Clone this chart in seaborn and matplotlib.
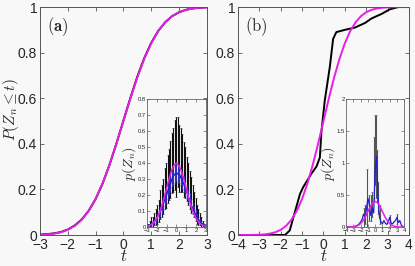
import numpy as np
import matplotlib
matplotlib.use("Agg")
import matplotlib.pyplot as plt
import seaborn as sns

# ---------------- data ----------------
# panel (a) CDF
ta = [-3.0, -2.75, -2.5, -2.25, -2.0, -1.75, -1.5, -1.25, -1.0, -0.75, -0.5, -0.25, 0.0,
      0.25, 0.5, 0.75, 1.0, 1.25, 1.5, 1.75, 2.0, 2.25, 2.5, 2.75, 3.0]
cdf_a_emp = [0.002, 0.004, 0.007, 0.013, 0.024, 0.042, 0.068, 0.106, 0.158, 0.225, 0.308, 0.402, 0.502,
             0.601, 0.695, 0.776, 0.843, 0.895, 0.933, 0.960, 0.977, 0.988, 0.994, 0.997, 0.999]
cdf_a_norm = [0.0013, 0.003, 0.0062, 0.0122, 0.0228, 0.0401, 0.0668, 0.1056, 0.1587, 0.2266, 0.3085, 0.4013, 0.5,
              0.5987, 0.6915, 0.7734, 0.8413, 0.8944, 0.9332, 0.9599, 0.9772, 0.9878, 0.9938, 0.997, 0.9987]

# panel (b) CDF
tb_norm = [-4.0, -3.75, -3.5, -3.25, -3.0, -2.75, -2.5, -2.25, -2.0, -1.75, -1.5, -1.25, -1.0, -0.75, -0.5, -0.25, 0.0,
           0.25, 0.5, 0.75, 1.0, 1.25, 1.5, 1.75, 2.0, 2.25, 2.5, 2.75, 3.0, 3.25, 3.5, 3.75, 4.0]
cdf_b_norm = [0.00003, 0.0001, 0.0002, 0.0006, 0.0013, 0.003, 0.0062, 0.0122, 0.0228, 0.0401, 0.0668, 0.1056, 0.1587,
              0.2266, 0.3085, 0.4013, 0.5, 0.5987, 0.6915, 0.7734, 0.8413, 0.8944, 0.9332, 0.9599, 0.9772, 0.9878,
              0.9938, 0.997, 0.9987, 0.9994, 0.9998, 0.9999, 1.0]
tb_emp = [-4.0, -1.8, -1.58, -1.34, -1.1, -0.95, -0.56, -0.33, -0.17, -0.1, 0.06, 0.3, 0.45, 0.6, 1.0,
          1.47, 1.94, 2.25, 2.72, 3.1, 3.5, 4.0]
cdf_b_emp = [0.0, 0.0, 0.02, 0.10, 0.18, 0.21, 0.27, 0.30, 0.34, 0.45, 0.59, 0.74, 0.86, 0.89, 0.90,
             0.91, 0.93, 0.95, 0.97, 0.99, 1.0, 1.0]

# inset (a)
xa = [-3.0 + 0.15 * i for i in range(41)]
black_a = [0.01, 0.01, 0.02, 0.03, 0.03, 0.05, 0.06, 0.08, 0.10, 0.14, 0.16, 0.19, 0.24, 0.26, 0.30, 0.33,
           0.36, 0.40, 0.42, 0.45, 0.44, 0.47, 0.43, 0.42, 0.40, 0.36, 0.34, 0.30, 0.27, 0.23, 0.20, 0.17,
           0.14, 0.11, 0.08, 0.06, 0.05, 0.03, 0.02, 0.01, 0.01]
black_a_err = [0.01, 0.01, 0.02, 0.03, 0.03, 0.04, 0.05, 0.06, 0.07, 0.09, 0.10, 0.11, 0.13, 0.14, 0.15, 0.16,
               0.18, 0.19, 0.20, 0.22, 0.25, 0.22, 0.21, 0.20, 0.18, 0.17, 0.16, 0.14, 0.13, 0.12, 0.11, 0.09,
               0.08, 0.07, 0.06, 0.05, 0.04, 0.03, 0.02, 0.01, 0.01]
blue_a = [0.005, 0.008, 0.012, 0.018, 0.025, 0.035, 0.045, 0.06, 0.075, 0.095, 0.115, 0.14, 0.17, 0.19, 0.22,
          0.25, 0.27, 0.30, 0.32, 0.33, 0.34, 0.33, 0.33, 0.31, 0.29, 0.27, 0.24, 0.22, 0.19, 0.17, 0.14,
          0.12, 0.10, 0.08, 0.06, 0.045, 0.035, 0.025, 0.018, 0.01, 0.006]
blue_a_err = [0.004, 0.005, 0.007, 0.01, 0.012, 0.015, 0.018, 0.02, 0.025, 0.03, 0.03, 0.035, 0.04, 0.04, 0.045,
              0.05, 0.05, 0.05, 0.055, 0.055, 0.055, 0.055, 0.055, 0.05, 0.05, 0.05, 0.045, 0.045, 0.04, 0.04,
              0.035, 0.03, 0.03, 0.025, 0.02, 0.018, 0.015, 0.012, 0.01, 0.006, 0.004]
xpdf_a = [-3.0, -2.75, -2.5, -2.25, -2.0, -1.75, -1.5, -1.25, -1.0, -0.75, -0.5, -0.25, 0.0,
          0.25, 0.5, 0.75, 1.0, 1.25, 1.5, 1.75, 2.0, 2.25, 2.5, 2.75, 3.0]
pdf_a = [0.0044, 0.0091, 0.0175, 0.0317, 0.054, 0.0863, 0.1295, 0.1826, 0.242, 0.3011, 0.3521, 0.3867, 0.3989,
         0.3867, 0.3521, 0.3011, 0.242, 0.1826, 0.1295, 0.0863, 0.054, 0.0317, 0.0175, 0.0091, 0.0044]

# inset (b)
xb = [-4.0 + 0.2 * i for i in range(41)]
blue_b = [0, 0, 0, 0, 0, 0, 0.01, 0.02, 0.03, 0.05, 0.08, 0.12, 0.2, 0.15, 0.28, 0.45, 0.35, 0.18, 0.3, 0.22,
          0.9, 1.1, 0.45, 0.15, 0.08, 0.05, 0.1, 0.06, 0.04, 0.08, 0.15, 0.06, 0.05, 0.08, 0.1, 0.15, 0.07,
          0.1, 0.03, 0.01, 0.0]
spike_t = [-1.6, -1.4, -1.1, -0.9, -0.6, -0.4, -0.2, 0.0, 0.1, 0.2, 0.4, 0.6, 2.0, 3.0]
spike_m = [0.15, 0.2, 0.45, 0.3, 0.3, 0.35, 0.9, 1.2, 1.1, 0.8, 0.45, 0.2, 0.1, 0.12]
spike_e = [0.15, 0.15, 0.45, 0.2, 0.2, 0.2, 0.5, 0.55, 0.65, 0.4, 0.25, 0.15, 0.08, 0.08]
xpdf_b = tb_norm
pdf_b = [0.0001, 0.0004, 0.0009, 0.002, 0.0044, 0.0091, 0.0175, 0.0317, 0.054, 0.0863, 0.1295, 0.1826, 0.242,
         0.3011, 0.3521, 0.3867, 0.3989, 0.3867, 0.3521, 0.3011, 0.242, 0.1826, 0.1295, 0.0863, 0.054, 0.0317,
         0.0175, 0.0091, 0.0044, 0.002, 0.0009, 0.0004, 0.0001]

# ---------------- style ----------------
sns.set_style("ticks")
plt.rcParams['font.family'] = ['Liberation Sans', 'DejaVu Sans']
plt.rcParams['mathtext.fontset'] = 'cm'
plt.rcParams['xtick.direction'] = 'in'
plt.rcParams['ytick.direction'] = 'in'

BG = '#f8f8f8'
MAG = '#e81ee8'
fig = plt.figure(figsize=(4.15, 2.66), dpi=100, facecolor=BG)

def style_main(ax):
    ax.set_facecolor(BG)
    for s in ax.spines.values():
        s.set_color('#555555')
        s.set_linewidth(0.7)
    ax.tick_params(axis='both', which='both', top=True, right=True, length=3, width=0.6,
                   labelsize=10, pad=2, color='#555555')

def style_inset(ax):
    ax.set_facecolor(BG)
    for s in ax.spines.values():
        s.set_color('#666666')
        s.set_linewidth(0.6)
    ax.tick_params(axis='both', which='both', top=True, right=True, length=2, width=0.5,
                   labelsize=4.2, pad=0.8, color='#666666')

def minus(vals):
    return [('\u2212' + str(abs(v))) if v < 0 else str(v) for v in vals]

# panel (a)
ax1 = fig.add_axes([0.0964, 0.1165, 0.402, 0.857])
style_main(ax1)
sns.lineplot(x=ta, y=cdf_a_emp, ax=ax1, color='black', linewidth=1.4)
sns.lineplot(x=ta, y=cdf_a_norm, ax=ax1, color=MAG, linewidth=1.4)
ax1.set_xlim(-3, 3)
ax1.set_ylim(0, 1)
ax1.set_xticks([-3, -2, -1, 0, 1, 2, 3])
ax1.set_xticklabels(minus([-3, -2, -1, 0, 1, 2, 3]))
ax1.set_yticks([0, 0.2, 0.4, 0.6, 0.8, 1])
ax1.set_yticklabels(['0', '0.2', '0.4', '0.6', '0.8', '1'])
ax1.set_xlabel(r'$t$', fontsize=12, labelpad=-2.5)
ax1.set_ylabel(r'$P(Z_n \leq t)$', fontsize=11)
ax1.yaxis.set_label_coords(-0.115, 0.55)
ax1.text(0.04, 0.965, r'$\mathbf{(a)}$', transform=ax1.transAxes, fontsize=12, va='top', ha='left')

# panel (b)
ax2 = fig.add_axes([0.5735, 0.1165, 0.412, 0.857])
style_main(ax2)
sns.lineplot(x=tb_emp, y=cdf_b_emp, ax=ax2, color='black', linewidth=1.4)
sns.lineplot(x=tb_norm, y=cdf_b_norm, ax=ax2, color=MAG, linewidth=1.4)
ax2.set_xlim(-4, 4)
ax2.set_ylim(0, 1)
ax2.set_xticks([-4, -3, -2, -1, 0, 1, 2, 3, 4])
ax2.set_xticklabels(minus([-4, -3, -2, -1, 0, 1, 2, 3, 4]))
ax2.set_yticks([0, 0.2, 0.4, 0.6, 0.8, 1])
ax2.set_yticklabels(['0', '0.2', '0.4', '0.6', '0.8', '1'])
ax2.set_xlabel(r'$t$', fontsize=12, labelpad=-2.5)
ax2.text(0.04, 0.965, r'$\mathrm{(b)}$', transform=ax2.transAxes, fontsize=12, va='top', ha='left')

# inset (a)
ia = fig.add_axes([0.354, 0.1466, 0.142, 0.481])
style_inset(ia)
ia.errorbar(xa, black_a, yerr=black_a_err, fmt='none', ecolor='#111111', elinewidth=0.8, capsize=0.8,
            capthick=0.4)
ia.errorbar(xa, blue_a, yerr=blue_a_err, fmt='none', ecolor='#3030c0', elinewidth=0.7, capsize=0.6,
            capthick=0.4)
sns.lineplot(x=xa, y=blue_a, ax=ia, color='#1f1fd0', linewidth=1.0)
sns.lineplot(x=xpdf_a, y=pdf_a, ax=ia, color=MAG, linewidth=1.1)
ia.set_xlim(-3, 3)
ia.set_ylim(0, 0.8)
ia.set_xticks([-3, -2, -1, 0, 1, 2, 3])
ia.set_xticklabels(minus([-3, -2, -1, 0, 1, 2, 3]))
ia.set_yticks([0, 0.1, 0.2, 0.3, 0.4, 0.5, 0.6, 0.7, 0.8])
ia.set_yticklabels(['0', '0.1', '0.2', '0.3', '0.4', '0.5', '0.6', '0.7', '0.8'])
ia.set_ylabel(r'$p(Z_n)$', fontsize=10, labelpad=0)

# inset (b)
ib = fig.add_axes([0.834, 0.1466, 0.14, 0.481])
style_inset(ib)
ib.errorbar(spike_t, spike_m, yerr=spike_e, fmt='none', ecolor='#555555', elinewidth=0.8, capsize=0.8,
            capthick=0.4)
sns.lineplot(x=xb, y=blue_b, ax=ib, color='#1f1fd0', linewidth=0.9)
sns.lineplot(x=xpdf_b, y=pdf_b, ax=ib, color=MAG, linewidth=1.1)
ib.set_xlim(-4, 4)
ib.set_ylim(0, 2)
ib.set_xticks([-4, -3, -2, -1, 0, 1, 2, 3, 4])
ib.set_xticklabels(minus([-4, -3, -2, -1, 0, 1, 2, 3, 4]))
ib.set_yticks([0, 0.5, 1, 1.5, 2])
ib.set_yticklabels(['0', '0.5', '1', '1.5', '2'])
ib.set_ylabel(r'$p(Z_n)$', fontsize=10, labelpad=0)

fig.savefig('out.png', dpi=100, facecolor=BG)
